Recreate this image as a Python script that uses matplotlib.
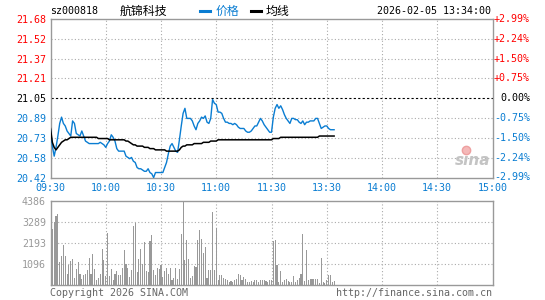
import matplotlib
matplotlib.use('Agg')
import matplotlib.pyplot as plt
import numpy as np

# ---------------- data ----------------
prev_close = 21.05
price = [20.80, 20.67, 20.59, 20.66, 20.75, 20.85, 20.90, 20.85, 20.83, 20.79,
         20.77, 20.75, 20.87, 20.85, 20.77, 20.76, 20.75, 20.79, 20.75, 20.71,
         20.70, 20.69, 20.69, 20.69, 20.69, 20.69, 20.69, 20.70, 20.69, 20.68,
         20.66, 20.69, 20.71, 20.76, 20.74, 20.71, 20.65, 20.63, 20.63, 20.63,
         20.63, 20.59, 20.58, 20.57, 20.58, 20.55, 20.54, 20.50, 20.49, 20.49,
         20.48, 20.47, 20.47, 20.49, 20.46, 20.45, 20.42, 20.46, 20.46, 20.46,
         20.46, 20.46, 20.50, 20.54, 20.61, 20.67, 20.69, 20.66, 20.63, 20.62,
         20.72, 20.83, 20.93, 20.97, 20.89, 20.89, 20.89, 20.87, 20.83, 20.80,
         20.85, 20.87, 20.90, 20.89, 20.91, 20.86, 20.85, 20.89, 21.04, 21.01,
         21.00, 20.94, 20.94, 20.93, 20.89, 20.86, 20.86, 20.85, 20.85, 20.84,
         20.85, 20.84, 20.82, 20.81, 20.81, 20.81, 20.79, 20.78, 20.78, 20.79,
         20.81, 20.83, 20.83, 20.86, 20.89, 20.87, 20.84, 20.82, 20.80, 20.78,
         20.78, 20.90, 20.97, 21.00, 20.97, 20.99, 20.96, 20.92, 20.89, 20.87,
         20.85, 20.89, 20.89, 20.88, 20.88, 20.86, 20.85, 20.87, 20.84, 20.86,
         20.86, 20.87, 20.87, 20.87, 20.89, 20.89, 20.85, 20.81, 20.82, 20.83,
         20.83, 20.81, 20.80, 20.80, 20.80]
avg = [20.81, 20.70, 20.66, 20.64, 20.66, 20.68, 20.70, 20.71, 20.72, 20.72,
       20.73, 20.74, 20.74, 20.74, 20.74, 20.74, 20.74, 20.74, 20.74, 20.74,
       20.74, 20.74, 20.74, 20.74, 20.74, 20.74, 20.73, 20.73, 20.73, 20.73,
       20.73, 20.73, 20.72, 20.72, 20.72, 20.72, 20.72, 20.72, 20.72, 20.72,
       20.72, 20.71, 20.71, 20.70, 20.69, 20.68, 20.68, 20.67, 20.67, 20.67,
       20.67, 20.66, 20.66, 20.66, 20.65, 20.65, 20.65, 20.64, 20.64, 20.64,
       20.64, 20.64, 20.64, 20.63, 20.63, 20.63, 20.63, 20.63, 20.63, 20.63,
       20.64, 20.66, 20.67, 20.67, 20.68, 20.68, 20.68, 20.68, 20.69, 20.69,
       20.69, 20.69, 20.69, 20.70, 20.70, 20.70, 20.70, 20.71, 20.71, 20.71,
       20.71, 20.72, 20.72, 20.72, 20.72, 20.72, 20.72, 20.72, 20.72, 20.72,
       20.72, 20.72, 20.72, 20.72, 20.72, 20.72, 20.72, 20.72, 20.72, 20.72,
       20.72, 20.72, 20.72, 20.72, 20.72, 20.72, 20.72, 20.72, 20.72, 20.72,
       20.72, 20.73, 20.73, 20.73, 20.73, 20.74, 20.74, 20.74, 20.74, 20.74,
       20.74, 20.74, 20.74, 20.74, 20.74, 20.74, 20.74, 20.74, 20.74, 20.74,
       20.74, 20.74, 20.74, 20.74, 20.74, 20.74, 20.75, 20.75, 20.75, 20.75,
       20.75, 20.75, 20.75, 20.75, 20.75]
volume = [609, 2958, 3306, 3600, 3706, 1200, 1514, 2088, 1514, 609,
          1044, 1253, 1357, 400, 870, 1200, 609, 348, 522, 574,
          783, 1444, 609, 1653, 870, 261, 400, 609, 1914, 1305,
          487, 2732, 487, 870, 296, 574, 731, 557, 557, 922,
          1862, 1131, 922, 435, 818, 3097, 3271, 696, 1357, 1879,
          1096, 2245, 748, 696, 2297, 2610, 818, 522, 922, 870,
          1044, 435, 731, 922, 609, 922, 296, 400, 922, 348,
          870, 2662, 4386, 1305, 2349, 1357, 400, 487, 992, 957,
          2349, 2871, 2401, 1688, 2001, 383, 783, 783, 3810, 800,
          3010, 296, 522, 522, 400, 330, 296, 174, 226, 174,
          261, 330, 609, 522, 261, 435, 348, 174, 174, 226,
          174, 261, 261, 174, 296, 261, 296, 226, 174, 296,
          261, 2297, 2384, 1044, 174, 748, 174, 296, 313, 209,
          174, 174, 470, 174, 296, 400, 574, 2662, 200, 1827,
          261, 313, 313, 313, 313, 313, 122, 1444, 174, 122,
          261, 557, 522, 174, 209]
time_labels = ['09:30', '10:00', '10:30', '11:00', '11:30',
               '13:30', '14:00', '14:30', '15:00']
price_labels = ['20.42', '20.58', '20.73', '20.89', '21.05',
                '21.21', '21.37', '21.52', '21.68']
pct_labels = ['-2.99%', '-2.24%', '-1.50%', '-0.75%', '0.00%',
              '+0.75%', '+1.50%', '+2.24%', '+2.99%']
vol_labels = [1096, 2193, 3289, 4386]
stock_code = 'sz000818'
stock_name = '航锦科技'
timestamp = '2026-02-05 13:34:00'

# ---------------- style ----------------
RED = '#ff0000'
BLUE = '#0a7dd2'
GRAY = '#999999'
GRID = '#aaaaaa'
MONO = 'DejaVu Sans Mono'
FS = 7.2
CJK = ['Noto Sans CJK SC', 'DejaVu Sans']

W, H = 545, 300
fig = plt.figure(figsize=(W / 100, H / 100), dpi=100)
fig.patch.set_facecolor('white')


def box(l, t, r, b):
    return [l / W, 1 - b / H, (r - l) / W, (b - t) / H]


def px(x, y):
    return x / W, 1 - y / H


ax = fig.add_axes(box(50.5, 19, 492.5, 177.5))
axv = fig.add_axes(box(50.5, 201.3, 492.5, 285.3))

lo = prev_close * (1 - 0.0299)
hi = prev_close * (1 + 0.0299)
yt = np.linspace(lo, hi, len(price_labels))
xt = np.arange(0, 241, 30)
x = np.arange(len(price))

# ---- price panel ----
ax.set_xlim(0, 240)
ax.set_ylim(lo, hi)
for i, y in enumerate(yt):
    if price_labels[i] == '21.05':
        ax.axhline(y, color='black', ls=(0, (2, 2)), lw=0.8, zorder=1)
    elif 0 < i < len(yt) - 1:
        ax.axhline(y, color=GRID, ls=(0, (1, 2)), lw=0.8, zorder=1)
for xv in xt[1:-1]:
    ax.axvline(xv, color=GRID, ls=(0, (1, 2)), lw=0.8, zorder=1)

# sina watermark
ax.text(0.955, 0.11, 'sina', transform=ax.transAxes, ha='center', va='center',
        fontsize=11, fontweight='bold', fontstyle='italic', color='#c4c4c4',
        family='DejaVu Sans', zorder=2)
ax.plot([0.94], [0.175], transform=ax.transAxes, marker='o', ms=6,
        color='#f4b8b8', mec='#eea0a0', zorder=2, clip_on=False)

ax.plot(x, price, color=BLUE, lw=1.0, zorder=3)
ax.plot(x, avg, color='black', lw=1.1, zorder=3)

ax.set_yticks(yt)
ax.set_yticklabels(price_labels, fontfamily=MONO, fontsize=FS)
for lab, txt in zip(ax.get_yticklabels(), price_labels):
    v = float(txt)
    lab.set_color(RED if v > prev_close else ('black' if v == prev_close else BLUE))
ax.set_xticks(xt)
ax.set_xticklabels(time_labels, fontfamily=MONO, fontsize=FS, color=BLUE)
ax.tick_params(length=0, pad=3.2)
ax.tick_params(axis='x', pad=4)
for s in ax.spines.values():
    s.set_color(GRAY)
    s.set_linewidth(1.0)

# right percentage labels
tr = ax.get_yaxis_transform()
xr = (530 - 50.5) / 442
for y, t in zip(yt, pct_labels):
    c = RED if t.startswith('+') else ('black' if t.startswith('0') else BLUE)
    ax.text(xr, y, t, transform=tr, ha='right', va='center', fontfamily=MONO,
            fontsize=FS, color=c, clip_on=False)

# ---- volume panel ----
axv.set_xlim(0, 240)
axv.set_ylim(0, vol_labels[-1])
axv.bar(x, volume, width=0.6, color=GRAY, zorder=3)
for v in vol_labels[:-1]:
    axv.axhline(v, color=GRID, ls=(0, (1, 2)), lw=0.8, zorder=1)
for xv in xt[1:-1]:
    axv.axvline(xv, color=GRID, ls=(0, (1, 2)), lw=0.8, zorder=1)
axv.set_xticks([])
axv.set_yticks(vol_labels)
axv.set_yticklabels([str(v) for v in vol_labels], fontfamily=MONO,
                    fontsize=FS, color=GRAY)
axv.tick_params(length=0, pad=3.2)
for s in axv.spines.values():
    s.set_color(GRAY)
    s.set_linewidth(1.0)

# ---- header / footer texts ----
fig.text(*px(50, 11), stock_code, fontfamily=MONO, fontsize=FS, color='black',
         va='center', ha='left')
fig.text(*px(120, 11), stock_name, family=CJK, fontsize=8.6, color='black',
         va='center', ha='left')
fig.add_artist(plt.Line2D([200 / W, 210 / W], [1 - 10.5 / H, 1 - 10.5 / H],
                          color=BLUE, lw=2.2))
fig.text(*px(216, 11), '价格', family=CJK, fontsize=8.6, color=BLUE,
         va='center', ha='left')
fig.add_artist(plt.Line2D([251 / W, 261 / W], [1 - 10.5 / H, 1 - 10.5 / H],
                          color='black', lw=2.2))
fig.text(*px(266, 11), '均线', family=CJK, fontsize=8.6, color='black',
         va='center', ha='left')
fig.text(*px(491, 11), timestamp, fontfamily=MONO, fontsize=FS, color='black',
         va='center', ha='right')
fig.text(*px(50, 292.5), 'Copyright 2026 SINA.COM', fontfamily=MONO,
         fontsize=FS, color='#666666', va='center', ha='left')
fig.text(*px(492, 292.5), 'http://finance.sina.com.cn', fontfamily=MONO,
         fontsize=FS, color='#666666', va='center', ha='right')

fig.savefig('out.png', dpi=100)
